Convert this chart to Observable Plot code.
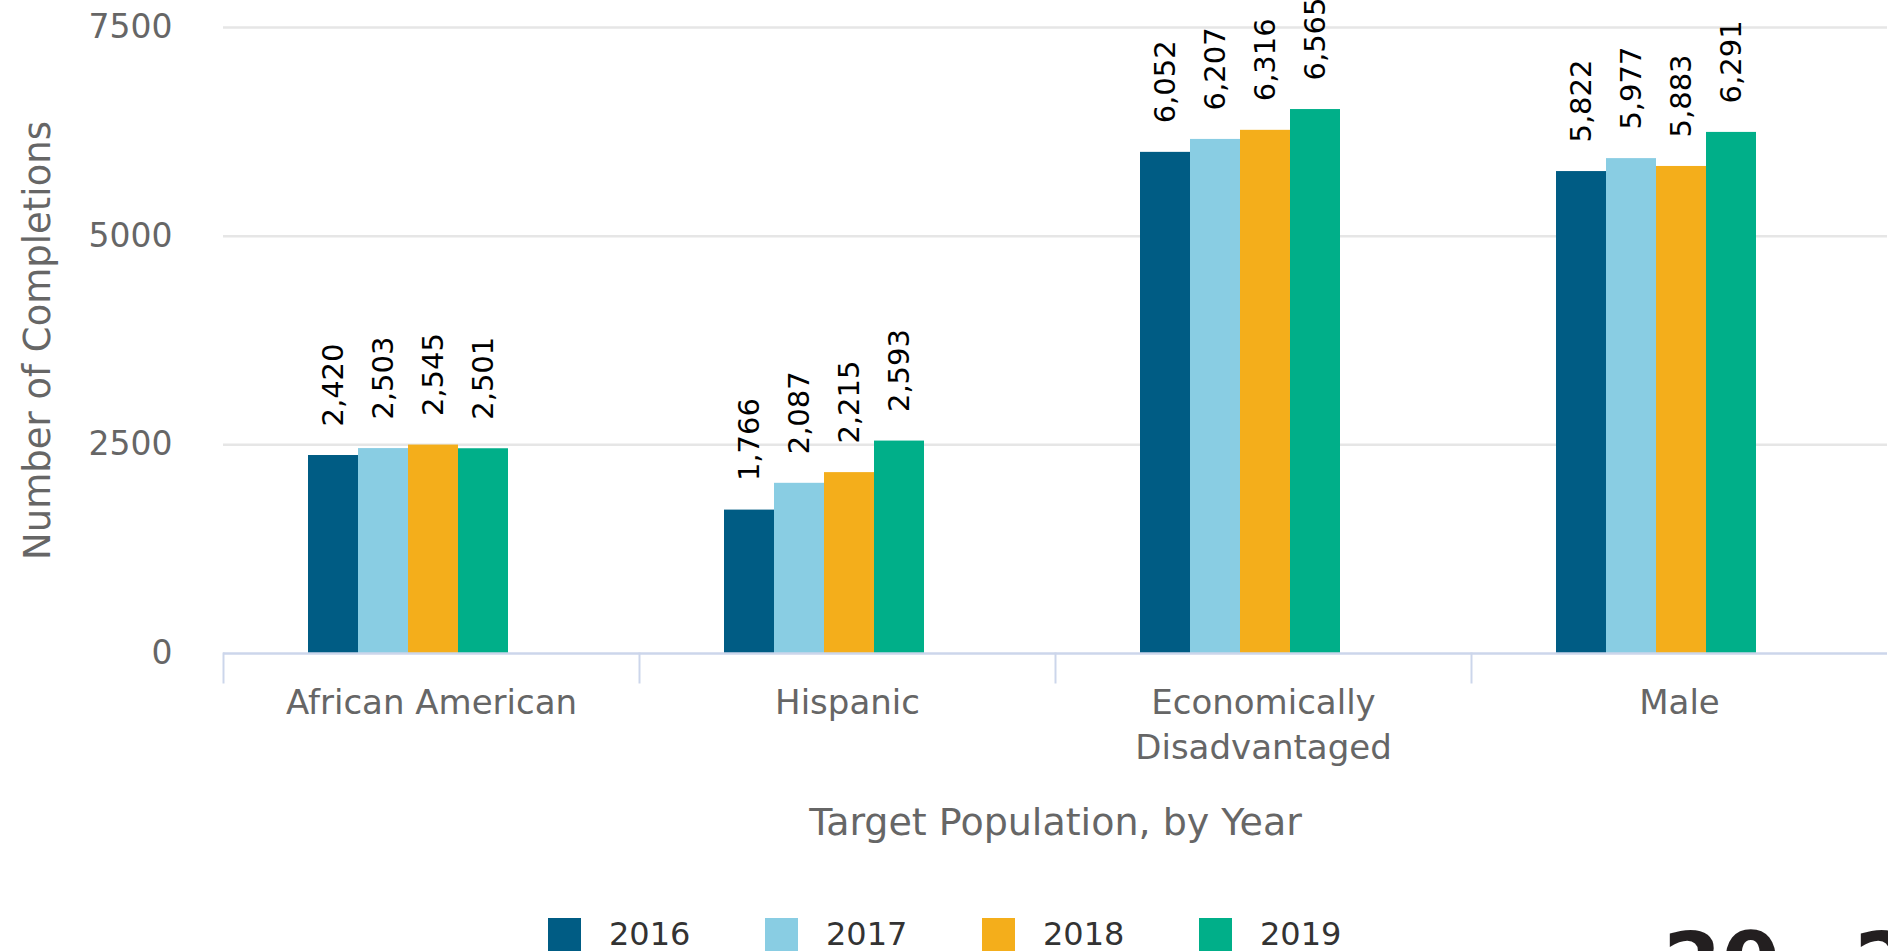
<!DOCTYPE html>
<html>
<head>
<meta charset="utf-8">
<script src="https://cdn.jsdelivr.net/npm/d3@7"></script>
<script src="https://cdn.jsdelivr.net/npm/@observablehq/plot@0.6"></script>
<style>
html, body { margin: 0; padding: 0; background: #fff; overflow: hidden; }
#wrap { position: relative; width: 1888px; height: 951px; overflow: hidden; background: #fff; }
#legend { position: absolute; left: 0; top: 915px; }
#legend .lg-swatches { margin: 0; padding-left: 548px; font-family: "DejaVu Sans", sans-serif; font-size: 32px; color: #333; min-height: 0; }
#legend .lg-swatch { width: 217px; margin-right: 0; }
#legend .lg-swatch > svg { margin-right: 28px; }
#stamp { position: absolute; left: 1663px; top: 921px; font-family: "DejaVu Sans", sans-serif; font-weight: bold; font-size: 84px; line-height: 1; color: #231f20; white-space: nowrap; }
#stamp .dash { letter-spacing: -10px; }
</style>
</head>
<body>
<div id="wrap">
  <div id="chart"></div>
  <div id="legend"></div>
  <div id="stamp">20<span class="dash">—</span>20</div>
</div>
<script>
const categories = ["African American", "Hispanic", "Economically Disadvantaged", "Male"];
const categoryLabels = ["African American", "Hispanic", "Economically\nDisadvantaged", "Male"];
const years = ["2016", "2017", "2018", "2019"];
const v2016 = [2420, 1766, 6052, 5822];
const v2017 = [2503, 2087, 6207, 5977];
const v2018 = [2545, 2215, 6316, 5883];
const v2019 = [2501, 2593, 6565, 6291];
const yTicks = [0, 2500, 5000, 7500];
const colors = ["#005c84", "#89cde3", "#f4ae1b", "#00af89"];

const series = [v2016, v2017, v2018, v2019];
const data = categories.flatMap((c, i) => years.map((y, j) => ({category: c, year: y, value: series[j][i]})));
const fmt = d3.format(",");

const plot = Plot.plot({
  width: 1888,
  height: 870,
  marginLeft: 221,
  marginRight: 0,
  marginTop: 27,
  marginBottom: 217,
  style: {fontFamily: "DejaVu Sans", background: "#fff", overflow: "visible"},
  fx: {domain: categories, padding: 0, label: null},
  x: {domain: years, paddingInner: 0, paddingOuter: 2.097, align: 0.394, axis: null},
  y: {domain: [0, 7500]},
  color: {domain: years, range: colors},
  marks: [
    Plot.gridY(yTicks.slice(1), {stroke: "#e6e6e6", strokeOpacity: 1, strokeWidth: 2.5}),
    Plot.axisY(yTicks, {anchor: "left", tickSize: 0, tickPadding: 51, tickFormat: d => String(d), fontSize: 33, fill: "#666", label: null}),
    Plot.axisY([], {anchor: "left", tickSize: 0, fontSize: 37, fill: "#666", label: "Number of Completions", labelAnchor: "center", labelArrow: "none", labelOffset: 200}),
    Plot.barY(data, {fx: "category", x: "year", y: "value", fill: "year", insetTop: 4}),
    Plot.ruleY([0], {stroke: "#ccd6eb", strokeWidth: 2.5}),
    Plot.frame({anchor: "left", stroke: "#ccd6eb", strokeWidth: 2, insetTop: 626, insetBottom: -29}),
    Plot.text(data, {fx: "category", x: "year", y: "value", text: d => fmt(d.value), rotate: -90, textAnchor: "start", dy: -25, fontSize: 29, fill: "#000"}),
    Plot.axisFx({anchor: "bottom", tickSize: 0, tickPadding: 29, tickFormat: d => categoryLabels[categories.indexOf(d)], fontSize: 34, lineHeight: 1.32, fill: "#666", label: null}),
    Plot.axisFx([], {anchor: "bottom", tickSize: 0, fontSize: 38, fill: "#666", label: "Target Population, by Year", labelAnchor: "center", labelArrow: "none", labelOffset: 181})
  ]
});
document.getElementById("chart").appendChild(plot);

const legend = plot.legend("color", {className: "lg", swatchSize: 33});
document.getElementById("legend").appendChild(legend);
</script>
</body>
</html>
